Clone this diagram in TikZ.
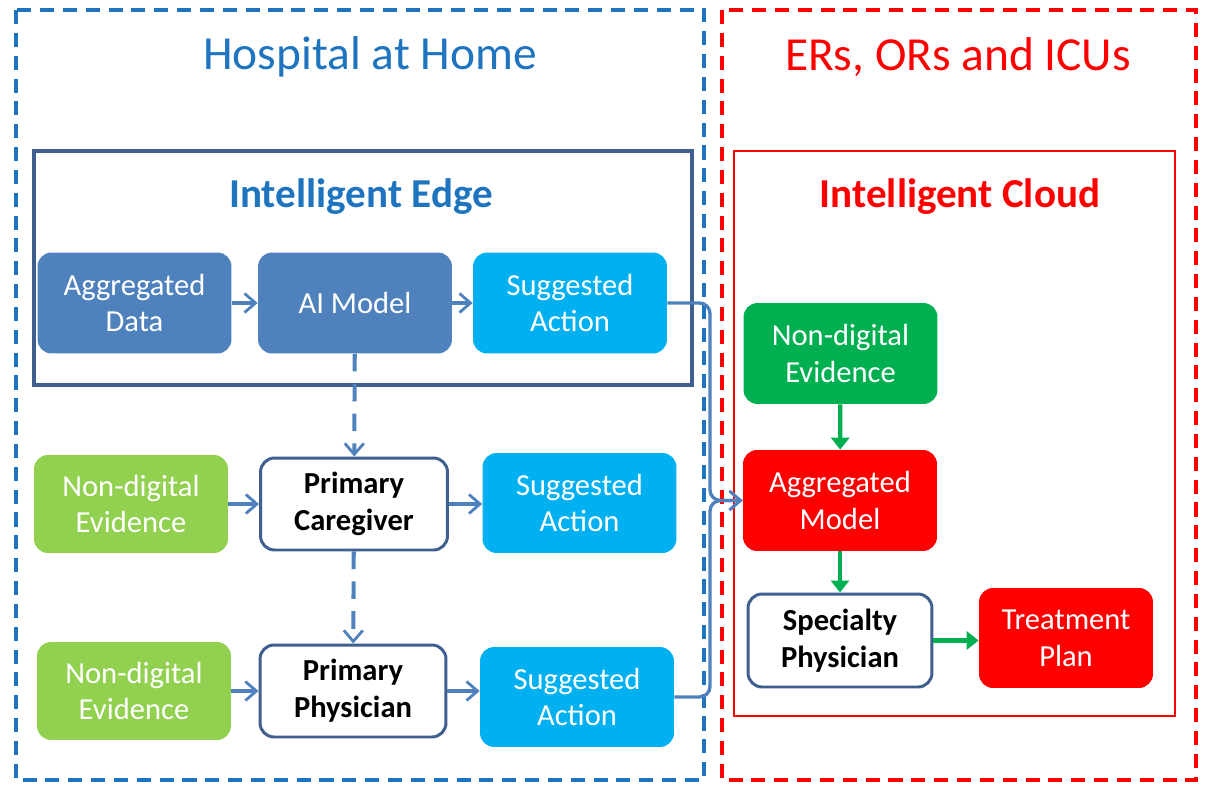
\documentclass[tikz,border=0pt]{standalone}
\usepackage{fontspec}
\setmainfont{Carlito}
\usetikzlibrary{arrows.meta,positioning,calc}
\definecolor{homeblue}{HTML}{1E74BE}
\definecolor{edgeline}{HTML}{3F5F8F}
\definecolor{edgefill}{HTML}{4F81BD}
\definecolor{actfill}{HTML}{00B0F0}
\definecolor{evfill}{HTML}{92D050}
\definecolor{cloudgreen}{HTML}{00B050}
\definecolor{cloudred}{HTML}{FF0000}
\tikzset{
zonebox/.style={line width=2pt, dash pattern=on 8pt off 5pt},
tierbox/.style={line width=2pt},
headtext/.style={font=\fontsize{27}{32}\selectfont},
tiertext/.style={font=\bfseries\fontsize{23.4}{28}\selectfont},
procbox/.style={rounded corners=8pt, align=center, text=white, minimum width=3.88cm, minimum height=2.02cm, inner sep=2pt, font=\fontsize{17.4}{21}\selectfont},
modelbox/.style={procbox, fill=edgefill},
actbox/.style={procbox, fill=actfill},
evidbox/.style={procbox, fill=evfill},
rolebox/.style={draw=edgeline, line width=1.7pt, rounded corners=8pt, align=center, fill=white, minimum width=3.74cm, minimum height=1.84cm, inner sep=2pt, font=\bfseries\fontsize{17.4}{21}\selectfont},
flowarrow/.style={-{Straight Barb[length=2.2mm,width=3.8mm,line width=1.6pt]}, line width=1.9pt, edgefill},
handarrow/.style={flowarrow, dash pattern=on 10pt off 7pt, line width=2.3pt},
cloudarrow/.style={-{Triangle[length=2.4mm,width=3.6mm]}, line width=2.4pt, cloudgreen}
}
\begin{document}
\begin{tikzpicture}[x=0.02cm, y=-0.02cm, node distance=0.5cm]
\useasboundingbox (0,0) rectangle (1214,794);
% zones
\draw[zonebox, homeblue] (16,10) rectangle (704,780);
\draw[zonebox, cloudred] (722,10) rectangle (1196,780);
\node[headtext, text=homeblue] (hometitle) at (370,57) {Hospital at Home};
\node[headtext, text=cloudred] (cloudtitle) at (958,57) {ERs, ORs and ICUs};
% tiers
\draw[tierbox, edgeline] (34,151) rectangle (692,385);
\draw[tierbox, cloudred, line width=1.4pt] (734,151) rectangle (1175,716);
\node[tiertext, text=homeblue] (edgetitle) at (361,197) {Intelligent Edge};
\node[tiertext, text=cloudred] (cloudtier) at (960,197) {Intelligent Cloud};

% edge row
\node[modelbox] (aggdata) at (134.5,303) {Aggregated\\Data};
\node[modelbox] (aimodel) at (355,303) {AI Model};
\node[actbox] (act1) at (570,303) {Suggested\\Action};
% caregiver row
\node[rolebox] (caregiver) at (354,504) {Primary\\Caregiver};
\node[evidbox, minimum height=1.96cm] (evid1) at (131,504) {Non-digital\\Evidence};
\node[actbox, minimum height=2cm] (act2) at (579.5,503) {Suggested\\Action};
% physician row
\node[rolebox, minimum width=3.72cm] (physician) at (353,691) {Primary\\Physician};
\node[evidbox, minimum height=1.96cm] (evid2) at (134,691) {Non-digital\\Evidence};
\node[actbox, minimum height=2cm] (act3) at (577,697) {Suggested\\Action};
% cloud
\node[procbox, fill=cloudgreen] (evid3) at (840.5,353.5) {Non-digital\\Evidence};
\node[procbox, fill=cloudred] (aggmodel) at (840,500.5) {Aggregated\\Model};
\node[rolebox, minimum width=3.68cm, minimum height=1.86cm] (specialist) at (840,640.5) {Specialty\\Physician};
\node[procbox, fill=cloudred, minimum width=3.48cm, minimum height=2cm] (treatment) at (1066,638) {Treatment\\Plan};

\draw[flowarrow] (aggdata) -- (aimodel);
\draw[flowarrow] (aimodel) -- (act1);
\draw[flowarrow] (evid1) -- (caregiver);
\draw[flowarrow] (caregiver.east) -- (caregiver.east -| act2.west);
\draw[flowarrow] (evid2) -- (physician);
\draw[flowarrow] (physician.east) -- (physician.east -| act3.west);
\draw[handarrow] (aimodel) -- (caregiver);
\draw[handarrow] (caregiver) -- (physician);

\coordinate (merge) at (710,500.5);
\draw[flowarrow, rounded corners=6pt] (act1.east) -| (merge) -- (aggmodel.west);
\draw[flowarrow, rounded corners=6pt] (act3.east) -| (merge) -- (aggmodel.west);

\draw[cloudarrow] (evid3) -- (aggmodel);
\draw[cloudarrow] (aggmodel) -- (specialist);
\draw[cloudarrow] (specialist.east) -- (specialist.east -| treatment.west);
\end{tikzpicture}
\end{document}
